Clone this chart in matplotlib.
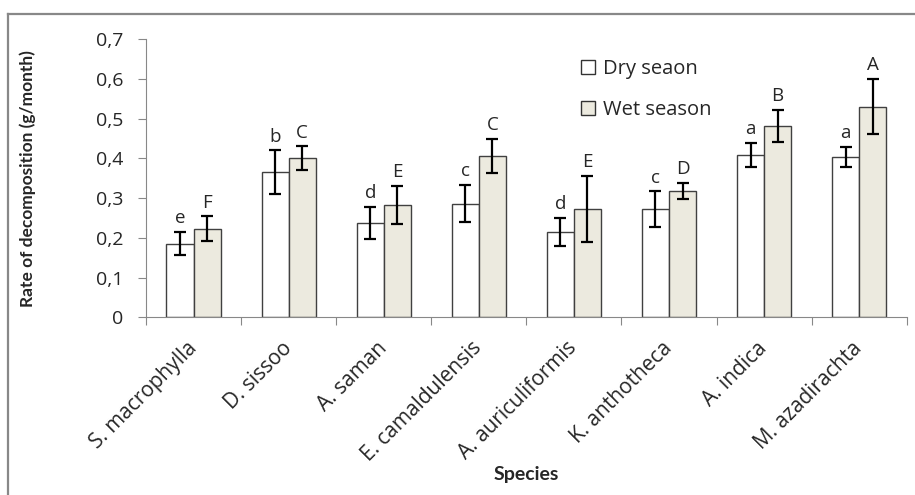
import matplotlib
matplotlib.use("Agg")
import matplotlib.pyplot as plt
from matplotlib.lines import Line2D
from matplotlib.patches import Patch
import numpy as np

species = ["S. macrophylla", "D. sissoo", "A. saman", "E. camaldulensis",
           "A. auriculiformis", "K. anthotheca", "A. indica", "M. azadirachta"]
dry = [0.185, 0.365, 0.237, 0.286, 0.215, 0.272, 0.408, 0.403]
dry_err = [0.029, 0.055, 0.040, 0.047, 0.036, 0.045, 0.030, 0.025]
wet = [0.223, 0.400, 0.283, 0.405, 0.272, 0.318, 0.481, 0.530]
wet_err = [0.031, 0.030, 0.047, 0.043, 0.083, 0.020, 0.041, 0.070]
dry_letters = ["e", "b", "d", "c", "d", "c", "a", "a"]
wet_letters = ["F", "C", "E", "C", "E", "D", "B", "A"]

plt.rcParams['font.family'] = ['Open Sans', 'DejaVu Sans']

fig = plt.figure(figsize=(9.15, 4.95), dpi=100)
ax = fig.add_axes([0.1596, 0.359, 0.8314, 0.562])

x = np.arange(len(species))
w = 0.285
wet_color = "#ECEADF"
txt = "#262626"

ekw = dict(ecolor="black", elinewidth=1.6, capsize=4, capthick=1.6)
ax.bar(x - w/2, dry, w, color="white", edgecolor="#404040", linewidth=1.0,
       yerr=dry_err, error_kw=ekw, zorder=2)
ax.bar(x + w/2, wet, w, color=wet_color, edgecolor="#404040", linewidth=1.0,
       yerr=wet_err, error_kw=ekw, zorder=2)

for i in range(len(species)):
    ax.text(x[i] - w/2, dry[i] + dry_err[i] + 0.012, dry_letters[i],
            ha="center", va="bottom", fontsize=13.5, color=txt)
    ax.text(x[i] + w/2, wet[i] + wet_err[i] + 0.012, wet_letters[i],
            ha="center", va="bottom", fontsize=13.5, color=txt)

ax.set_xlim(-0.5, len(species) - 0.5)
ax.set_ylim(0, 0.7)
ax.set_yticks(np.arange(0, 0.71, 0.1))
ax.set_yticklabels(["0"] + [("%.1f" % v).replace(".", ",") for v in np.arange(0.1, 0.71, 0.1)],
                   fontsize=14, color=txt)
ax.set_xticks(np.arange(-0.5, len(species), 1.0))
ax.set_xticklabels([])
ax.set_xticks(x, minor=True)
ax.set_xticklabels(species, minor=True, rotation=45, ha="right", va="center",
                   rotation_mode="anchor", fontsize=15, color=txt)
ax.tick_params(axis="x", which="minor", length=0, pad=20)
ax.tick_params(axis="x", which="major", length=5.5, direction="out", color="#888888")
ax.tick_params(axis="y", length=5.5, direction="out", color="#888888", pad=11)

for s in ["top", "right"]:
    ax.spines[s].set_visible(False)
ax.spines["left"].set_color("#888888")
ax.spines["bottom"].set_color("#888888")

ax.set_ylabel("Rate of decomposition (g/month)", fontsize=12.5, fontweight="bold",
              color=txt, family=["Lato", "DejaVu Sans"])
ax.yaxis.set_label_coords(-0.145, 0.5)
ax.set_xlabel("Species", fontsize=14, fontweight="bold", color=txt,
              family=["Lato", "DejaVu Sans"])
ax.xaxis.set_label_coords(0.5, -0.535)

handles = [Patch(facecolor="white", edgecolor="#333333"),
           Patch(facecolor=wet_color, edgecolor="#333333")]
ax.legend(handles, ["Dry seaon", "Wet season"], loc="upper left",
          bbox_to_anchor=(0.548, 0.995), frameon=False, fontsize=14.5,
          handlelength=0.7, handleheight=0.7, handletextpad=0.4, labelspacing=1.05,
          labelcolor=txt)

# outer chart border (left and top edges visible)
fig.add_artist(Line2D([8/915, 8/915], [0, 1 - 14/495], color="#888888", linewidth=1.6,
                      transform=fig.transFigure))
fig.add_artist(Line2D([8/915, 1], [1 - 14/495, 1 - 14/495], color="#888888", linewidth=1.6,
                      transform=fig.transFigure))

fig.savefig("out.png", dpi=100)
